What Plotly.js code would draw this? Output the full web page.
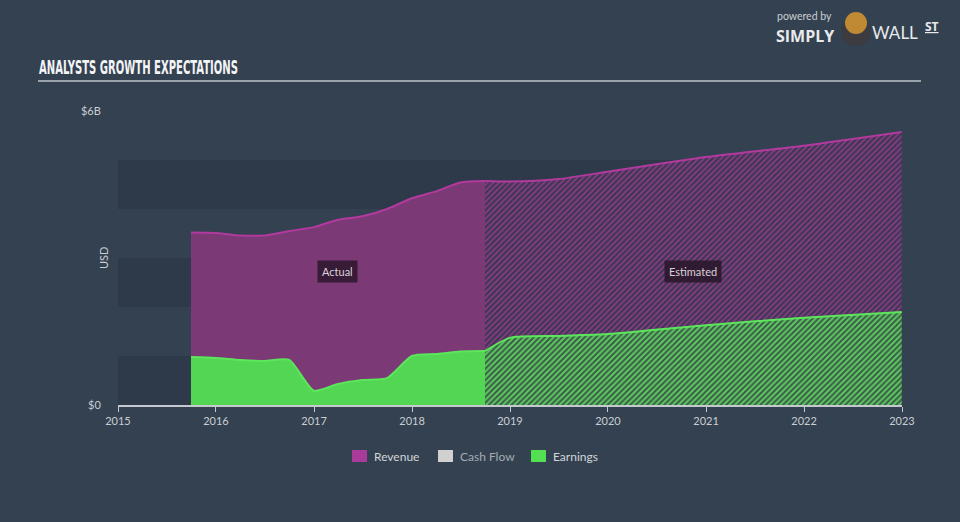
<!DOCTYPE html>
<html>
<head>
<meta charset="utf-8">
<script src="https://cdn.plot.ly/plotly-3.0.1.min.js"></script>
<style>
html,body{margin:0;padding:0;background:#344150;}
#chart{width:960px;height:522px;}
</style>
</head>
<body>
<div id="chart"></div>
<script>
// ---- data (USD billions) ----
const actualDates = ['2015-09-30','2015-12-31','2016-03-31','2016-06-30','2016-09-30','2016-12-31','2017-03-31','2017-06-30','2017-09-30','2017-12-31','2018-03-31','2018-06-30','2018-09-30'];
const revenueActual = [3.52,3.51,3.46,3.46,3.55,3.63,3.78,3.85,4.00,4.22,4.36,4.54,4.57];
const earningsActual = [0.98,0.96,0.92,0.90,0.92,0.29,0.43,0.51,0.55,1.00,1.04,1.09,1.10];

const estimateDates = ['2018-09-30','2018-12-31','2019-06-30','2019-12-31','2020-12-31','2021-12-31','2022-12-31'];
const revenueEstimate = [4.57,4.56,4.61,4.76,5.06,5.29,5.57];
const earningsEstimate = [1.10,1.37,1.41,1.45,1.63,1.78,1.90];

const yearTicks = ['2015','2016','2017','2018','2019','2020','2021','2022','2023'];
const yTickVals = [0,6];
const yTickText = ['$0','$6B'];
const legendNames = ['Revenue','Cash Flow','Earnings'];

// ---- styling ----
const BG = '#344150';
const BAND = '#2e3a49';
const REV_LINE = '#b23a9e', REV_FILL = '#7b3a75';
const EARN_LINE = '#5ce65c', EARN_FILL = '#52d654';
const TXT = '#c9ced4';
const FONT = 'Lato, "Open Sans", sans-serif';
const legendColors = ['#a93c9a','#d0d0d0','#52e052'];
const legendTextColors = ['#d2d6da','#a3abb4','#d2d6da'];
const legendSwatchX = [352,438,531];

const traces = [
  {x: actualDates, y: revenueActual, type:'scatter', mode:'lines', fill:'tozeroy', name:'Revenue',
   line:{color:REV_LINE, width:2, shape:'spline', smoothing:0.6}, fillcolor:REV_FILL,
   hoverinfo:'skip', showlegend:false},
  {x: estimateDates, y: revenueEstimate, type:'scatter', mode:'lines', fill:'tozeroy', name:'Revenue (estimated)',
   line:{color:REV_LINE, width:2, shape:'spline', smoothing:0.6},
   fillpattern:{shape:'/', fgcolor:'#8e3b88', bgcolor:'#3c3852', size:4, solidity:0.42},
   hoverinfo:'skip', showlegend:false},
  {x: actualDates, y: earningsActual, type:'scatter', mode:'lines', fill:'tozeroy', name:'Earnings',
   line:{color:EARN_LINE, width:2, shape:'spline', smoothing:0.6}, fillcolor:EARN_FILL,
   hoverinfo:'skip', showlegend:false},
  {x: estimateDates, y: earningsEstimate, type:'scatter', mode:'lines', fill:'tozeroy', name:'Earnings (estimated)',
   line:{color:EARN_LINE, width:2, shape:'spline', smoothing:0.6},
   fillpattern:{shape:'/', fgcolor:'#5ccc5e', bgcolor:'#3c5a4a', size:4, solidity:0.5},
   hoverinfo:'skip', showlegend:false}
];

const px = v => (v-118)/784;       // pixel x -> paper
const py = v => (405-v)/294;       // pixel y -> paper

const shapes = [];
[[0,1],[2,3],[4,5]].forEach(b => shapes.push({type:'rect', xref:'paper', x0:0, x1:1, yref:'y', y0:b[0], y1:b[1],
  fillcolor:BAND, line:{width:0}, layer:'below'}));
shapes.push({type:'line', xref:'paper', yref:'paper', x0:px(38), x1:px(921), y0:py(81), y1:py(81),
  line:{color:'#9aa2ab', width:2}});
// logo badge
shapes.push({type:'circle', xref:'paper', yref:'paper', x0:px(841), x1:px(871), y0:py(46), y1:py(16),
  fillcolor:'#3b3b40', line:{width:0}});
shapes.push({type:'circle', xref:'paper', yref:'paper', x0:px(845), x1:px(867), y0:py(34), y1:py(12),
  fillcolor:'#c08a34', line:{width:0}});
// legend swatches
legendSwatchX.forEach((x,i) => shapes.push({type:'rect', xref:'paper', yref:'paper',
  x0:px(x), x1:px(x+15), y0:py(462), y1:py(450), fillcolor:legendColors[i], line:{width:0}}));

const annotations = [
  {text:'<b>ANALYSTS GROWTH EXPECTATIONS</b>', xref:'paper', yref:'paper', x:px(37), y:py(67),
   xanchor:'left', yanchor:'middle', showarrow:false, name:'maintitle',
   font:{family:'"Liberation Sans Narrow", "DejaVu Sans Condensed", sans-serif', size:19, color:'#f2f4f6'}},
  {text:'USD', xref:'paper', yref:'paper', x:px(103), y:py(258), textangle:-90, showarrow:false,
   xanchor:'center', yanchor:'middle', font:{family:FONT, size:11, color:TXT}},
  {text:'Actual', xref:'paper', yref:'paper', x:px(337), y:py(271), showarrow:false,
   xanchor:'center', yanchor:'middle', bgcolor:'rgba(45,22,45,0.85)', borderpad:4,
   font:{family:FONT, size:11, color:'#d9d2d9'}},
  {text:'Estimated', xref:'paper', yref:'paper', x:px(693), y:py(271), showarrow:false,
   xanchor:'center', yanchor:'middle', bgcolor:'rgba(40,22,40,0.85)', borderpad:4,
   font:{family:FONT, size:11, color:'#d9d2d9'}},
  {text:'powered by', xref:'paper', yref:'paper', x:px(776), y:py(23.5), showarrow:false,
   xanchor:'left', yanchor:'bottom', borderpad:0, font:{family:FONT, size:10.5, color:'#c9ced4'}},
  {text:'<b>SIMPLY</b>', xref:'paper', yref:'paper', x:px(775), y:py(24), showarrow:false,
   xanchor:'left', yanchor:'top', borderpad:0, font:{family:'"Open Sans", sans-serif', size:16, color:'#e8eaec'}},
  {text:'WALL', xref:'paper', yref:'paper', x:px(870), y:py(32), showarrow:false,
   xanchor:'left', yanchor:'middle', font:{family:'Lato, sans-serif', size:17, color:'#e8eaec'}},
  {text:'<b><u>ST</u></b>', xref:'paper', yref:'paper', x:px(923), y:py(27), showarrow:false,
   xanchor:'left', yanchor:'middle', font:{family:'"Open Sans", sans-serif', size:12, color:'#e8eaec'}}
];
legendNames.forEach((n,i) => annotations.push({text:n, xref:'paper', yref:'paper',
  x:px(legendSwatchX[i]+20), y:py(456), xanchor:'left', yanchor:'middle', showarrow:false,
  font:{family:FONT, size:12, color:legendTextColors[i]}}));

const layout = {
  width:960, height:522,
  paper_bgcolor:BG, plot_bgcolor:'rgba(0,0,0,0)',
  margin:{l:118, r:58, t:111, b:117},
  font:{family:FONT, color:TXT},
  showlegend:false,
  xaxis:{type:'date', range:['2015-01-01','2023-01-01'],
    tickvals: yearTicks.map(y => y+'-01-01'), ticktext: yearTicks,
    showgrid:false, zeroline:false, showline:true, linecolor:'#c3c9cf', linewidth:1.5,
    ticks:'outside', ticklen:5, tickcolor:'#c3c9cf', tickwidth:1,
    tickfont:{family:FONT, size:11, color:TXT}, fixedrange:true},
  yaxis:{range:[0,6], tickvals:yTickVals, ticktext:yTickText, showgrid:false, zeroline:false,
    showline:false, ticks:'outside', ticklen:14, tickcolor:'rgba(0,0,0,0)',
    tickfont:{family:FONT, size:11, color:TXT}, fixedrange:true},
  shapes: shapes,
  annotations: annotations
};

Plotly.newPlot('chart', traces, layout, {displayModeBar:false, staticPlot:true}).then(gd => {
  // condense the headline horizontally to match the narrow display face
  const texts = gd.querySelectorAll('.annotation-text');
  texts.forEach(t => {
    if (t.textContent.indexOf('ANALYSTS') === 0) {
      const bb = t.getBBox();
      const target = 199;
      const sx = target / bb.width;
      const x0 = bb.x;
      t.setAttribute('transform', 'translate(' + x0 + ',0) scale(' + sx + ',1) translate(' + (-x0) + ',0)');
    }
  });
});
</script>
</body>
</html>
